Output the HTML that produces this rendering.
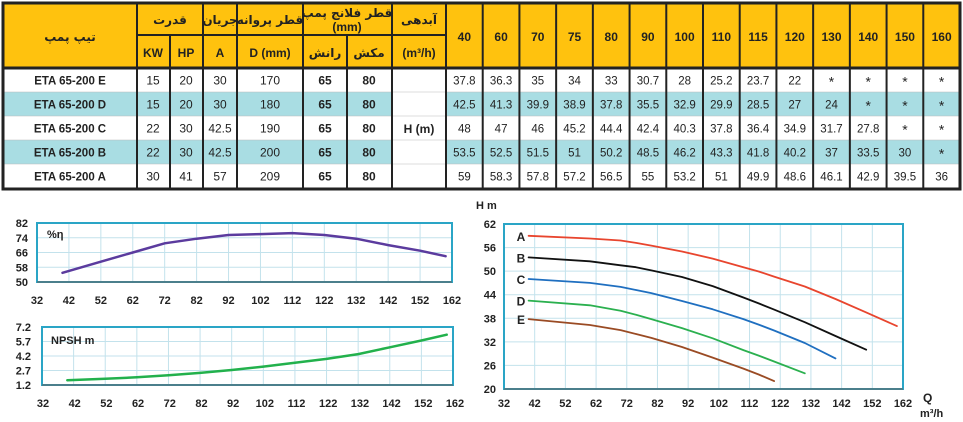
<!DOCTYPE html>
<html><head><meta charset="utf-8">
<style>
body{margin:0;background:#fff;}
svg{display:block;font-family:"Liberation Sans","DejaVu Sans",sans-serif;}
</style></head>
<body>
<svg id="root" width="963" height="422" viewBox="0 0 963 422" xmlns="http://www.w3.org/2000/svg">
<g id="table"></g>
<g id="eff"></g>
<g id="npsh"></g>
<g id="head"></g>
</svg>
<script>
// ---- table data ----
const flows = [40,60,70,75,80,90,100,110,115,120,130,140,150,160];
const models = ["ETA 65-200 E","ETA 65-200 D","ETA 65-200 C","ETA 65-200 B","ETA 65-200 A"];
const kwVals = ["15","15","22","22","30"];
const hpVals = ["20","20","30","30","41"];
const ampVals = ["30","30","42.5","42.5","57"];
const diaVals = ["170","180","190","200","209"];
const headE = [37.8,36.3,35,34,33,30.7,28,25.2,23.7,22,null,null,null,null];
const headD = [42.5,41.3,39.9,38.9,37.8,35.5,32.9,29.9,28.5,27,24,null,null,null];
const headC = [48,47,46,45.2,44.4,42.4,40.3,37.8,36.4,34.9,31.7,27.8,null,null];
const headB = [53.5,52.5,51.5,51,50.2,48.5,46.2,43.3,41.8,40.2,37,33.5,30,null];
const headA = [59,58.3,57.8,57.2,56.5,55,53.2,51,49.9,48.6,46.1,42.9,39.5,36];
// ---- efficiency / npsh ----
const effQ = [40,52,62,72,82,92,102,112,122,132,142,152,160];
const effVals = [55,61,66,71,73.5,75.5,76,76.5,75.5,73.5,70,67,64];
const npshQ = [40,52,62,72,82,92,102,112,122,132,142,152,160];
const npshVals = [1.7,1.85,2.0,2.2,2.45,2.75,3.1,3.5,3.9,4.4,5.1,5.8,6.4];
const qTicks = [32,42,52,62,72,82,92,102,112,122,132,142,152,162];
const effTicks = [50,58,66,74,82];
const npshTicks = [1.2,2.7,4.2,5.7,7.2];
const headTicks = [20,26,32,38,44,50,56,62];

const NS="http://www.w3.org/2000/svg";
function mk(parent,tag,attrs,text){const el=document.createElementNS(NS,tag);for(const k in attrs)el.setAttribute(k,attrs[k]);if(text!==undefined)el.textContent=text;parent.appendChild(el);return el;}

// ===== TABLE =====
const T=document.getElementById('table');
const tblTop=4, h1=35, h2=68, rowH=24, fx0=446, fw=(960-446)/14;
mk(T,'rect',{x:4,y:tblTop,width:956,height:h2-tblTop,fill:'#FFC20E'});
const bandColors=['#fff','#A9DDE3','#fff','#A9DDE3','#fff'];
for(let r=0;r<5;r++){
  const b=mk(T,'rect',{x:4,y:h2+r*rowH,width:956,height:rowH,fill:bandColors[r]});
  
  
}
mk(T,'rect',{x:392,y:h2,width:54,height:5*rowH,fill:'#fff'});
const txt=(x,y,s,opt={})=>mk(T,'text',Object.assign({x:x,y:y,'text-anchor':'middle','font-size':12,fill:'#222'},opt),s);
let hd;
hd=txt(70,41,'تیپ پمپ',{'font-family':'DejaVu Sans','font-weight':'bold','font-size':12});


txt(170,24,'قدرت',{'font-family':'DejaVu Sans','font-weight':'bold'});
txt(220,24,'جریان',{'font-family':'DejaVu Sans','font-weight':'bold'});
txt(270,24,'قطر پروانه',{'font-family':'DejaVu Sans','font-weight':'bold'});
txt(347,17,'قطر فلانج پمپ',{'font-family':'DejaVu Sans','font-weight':'bold'});
txt(347,31,'(mm)',{'font-weight':'bold'});
txt(419,24,'آبدهی',{'font-family':'DejaVu Sans','font-weight':'bold'});
const subs=[['KW',153],['HP',186],['A',220],['D (mm)',270],['رانش',325],['مکش',369],['(m³/h)',419]];
subs.forEach(s=>{
  const t=txt(s[1],57,s[0],{'font-weight':'bold','font-family':'"Liberation Sans","DejaVu Sans",sans-serif'});
  
  
});
flows.forEach((f,i)=>{
  const t=txt(fx0+fw*(i+0.5),41,String(f),{'font-weight':'bold','font-size':12});
  
  
});
const heads=[headE,headD,headC,headB,headA];
for(let r=0;r<5;r++){
  const y=h2+r*rowH+16.5;
  txt(70,y,models[r],{'font-weight':'bold','font-size':11.5});
  txt(153,y,kwVals[r]);txt(186,y,hpVals[r]);txt(220,y,ampVals[r]);txt(270,y,diaVals[r]);
  txt(325,y,'65',{'font-weight':'bold'});txt(369,y,'80',{'font-weight':'bold'});
  heads[r].forEach((v,i)=>{
    const c=txt(fx0+fw*(i+0.5),y+(v===null?2:0),v===null?'*':String(v),{'font-size':v===null?14:11.5});
    
    
  });
}
txt(419,h2+2.5*rowH+5,'H (m)',{'font-weight':'bold'});
const L=(x1,y1,x2,y2,w)=>mk(T,'line',{x1:x1,y1:y1,x2:x2,y2:y2,stroke:'#222','stroke-width':w||1.5});
L(137,h1,446,h1,2);
L(4,h2,960,h2,3);
for(let r=1;r<5;r++)L(4,h2+r*rowH,960,h2+r*rowH,0.6).setAttribute('stroke','#bbb');
[137,203,237,303,392,446].forEach(x=>L(x,tblTop,x,h2+5*rowH,2));
[170,347].forEach(x=>L(x,h1,x,h2+5*rowH,2));
for(let i=1;i<14;i++)L(fx0+fw*i,tblTop,fx0+fw*i,h2+5*rowH,2);
mk(T,'rect',{x:3,y:3,width:957,height:h2+5*rowH-2,fill:'none',stroke:'#222','stroke-width':3});

// ===== CHART helper =====
function chart(g,box,xmin,xmax,ymin,ymax,yt,ylabelX,xLabelY,xLabelLeft,xLabelRight){
  const sx=v=>box.x+(v-xmin)/(xmax-xmin)*box.w;
  const sy=v=>box.y+box.h-(v-ymin)/(ymax-ymin)*box.h;
  mk(g,'rect',{x:box.x,y:box.y,width:box.w,height:box.h,fill:'#fff'});
  qTicks.forEach(q=>{const x=sx(q);mk(g,'line',{x1:x,y1:box.y,x2:x,y2:box.y+box.h,stroke:'#c3e2ec','stroke-width':1});});
  const nSub=box.sub||(yt.length-1);
  for(let i=0;i<=nSub;i++){const y=box.y+box.h*i/nSub;mk(g,'line',{x1:box.x,y1:y,x2:box.x+box.w,y2:y,stroke:'#c3e2ec','stroke-width':1});}
  mk(g,'rect',{x:box.x,y:box.y,width:box.w,height:box.h,fill:'none',stroke:'#2aa5c6','stroke-width':2});
  mk(g,'line',{x1:box.x,y1:box.y+box.h,x2:box.x+box.w,y2:box.y+box.h,stroke:'#4b7f8c','stroke-width':2});
  yt.forEach(v=>{
    const t=mk(g,'text',{x:ylabelX,y:sy(v)+4,'text-anchor':'end','font-size':11,'font-weight':'bold',fill:'#222'},String(v));
    
    
  });
  qTicks.forEach((q,i)=>{
    const x=xLabelLeft+(xLabelRight-xLabelLeft)*i/(qTicks.length-1);
    const t=mk(g,'text',{x:x,y:xLabelY,'text-anchor':'middle','font-size':11,'font-weight':'bold',fill:'#222'},String(q));
    
    
  });
  return {sx,sy};
}
function curve(g,xs,ys,s,color,w,name){
  let d='';xs.forEach((x,i)=>{if(ys[i]===null)return;d+=(d?'L':'M')+s.sx(x).toFixed(1)+','+s.sy(ys[i]).toFixed(1);});
  const p=mk(g,'path',{d:d,fill:'none',stroke:color,'stroke-width':w,'stroke-linejoin':'round','stroke-linecap':'round'});
  
  
  return p;
}
const G1=document.getElementById('eff');
const s1=chart(G1,{x:37,y:223,w:415,h:59,sub:4},32,162,50,82,effTicks,28,304,37,452);
curve(G1,effQ,effVals,s1,'#5b3b9e',2.5,'efficiency-curve');
mk(G1,'text',{x:47,y:238,'font-size':11,'font-weight':'bold',fill:'#222'},'%η');
const G2=document.getElementById('npsh');
const s2=chart(G2,{x:42,y:327,w:411,h:58,sub:4},32,162,1.2,7.2,npshTicks,31,407,43,455);
curve(G2,npshQ,npshVals,s2,'#22b14c',2.5,'npsh-curve');
mk(G2,'text',{x:51,y:344,'font-size':11,'font-weight':'bold',fill:'#222'},'NPSH m');
const G3=document.getElementById('head');
const s3=chart(G3,{x:504,y:224,w:399,h:165,sub:7},32,162,20,62,headTicks,496,407,504,903);
const hc=[[headA,'#e8452e','A'],[headB,'#111','B'],[headC,'#1f6fc0','C'],[headD,'#2bb04f','D'],[headE,'#9a4b24','E']];
hc.forEach(h=>{
  curve(G3,flows,h[0],s3,h[1],1.8,'head-curve-'+h[2]);
  const t=mk(G3,'text',{x:521,y:s3.sy(h[0][0])+5,'text-anchor':'middle','font-size':12,'font-weight':'bold',fill:'#222'},h[2]);
  
  
});
mk(G3,'text',{x:476,y:209,'font-size':11,'font-weight':'bold',fill:'#222'},'H m');
mk(G3,'text',{x:923,y:402,'font-size':12,'font-weight':'bold',fill:'#222'},'Q');
mk(G3,'text',{x:920,y:417,'font-size':11,'font-weight':'bold',fill:'#222'},'m³/h');
</script>
</body></html>
